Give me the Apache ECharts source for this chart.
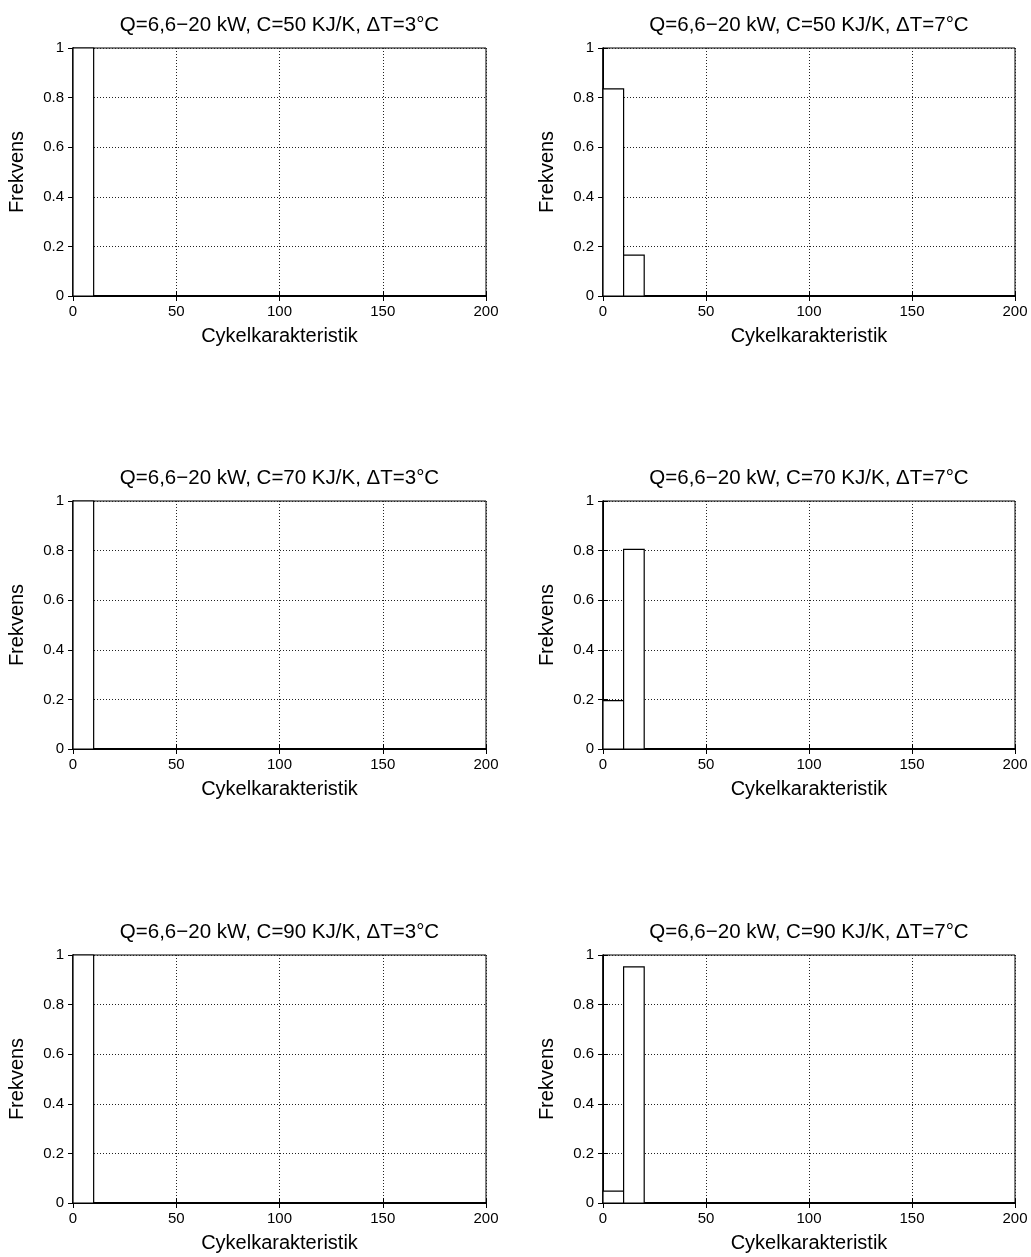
<!DOCTYPE html>
<html>
<head>
<meta charset="utf-8">
<script src="https://cdn.jsdelivr.net/npm/echarts@6/dist/echarts.min.js"></script>
<style>
  html, body { margin: 0; padding: 0; background: #fff; }
  #main { width: 1031px; height: 1257px; }
</style>
</head>
<body>
<div id="main"></div>
<script>
// histogram bins: width 10, starting at 0
var binWidth = 10;
var xTicks = [0, 50, 100, 150, 200];
var yTicks = [0, 0.2, 0.4, 0.6, 0.8, 1];

var titles = [
  'Q=6,6\u221220 kW, C=50 KJ/K, \u0394T=3\u00b0C',
  'Q=6,6\u221220 kW, C=50 KJ/K, \u0394T=7\u00b0C',
  'Q=6,6\u221220 kW, C=70 KJ/K, \u0394T=3\u00b0C',
  'Q=6,6\u221220 kW, C=70 KJ/K, \u0394T=7\u00b0C',
  'Q=6,6\u221220 kW, C=90 KJ/K, \u0394T=3\u00b0C',
  'Q=6,6\u221220 kW, C=90 KJ/K, \u0394T=7\u00b0C'
];

var freqC50dT3 = [1];
var freqC50dT7 = [0.835, 0.165];
var freqC70dT3 = [1];
var freqC70dT7 = [0.195, 0.805];
var freqC90dT3 = [1];
var freqC90dT7 = [0.048, 0.952];

var panels = [freqC50dT3, freqC50dT7, freqC70dT3, freqC70dT7, freqC90dT3, freqC90dT7];

var chart = echarts.init(document.getElementById('main'));

var font = 'Liberation Sans, Arial, Helvetica, sans-serif';
var colLeft = [73, 603];
var colWidth = [413, 412];
var rowTop = [48, 501, 955];
var plotH = 248;

var grids = [], xAxes = [], yAxes = [], series = [], titleOpts = [];

panels.forEach(function (freq, i) {
  var col = i % 2, row = Math.floor(i / 2);
  grids.push({
    left: colLeft[col], top: rowTop[row], width: colWidth[col], height: plotH,
    show: true, borderColor: '#000', borderWidth: 1, backgroundColor: 'transparent'
  });
  titleOpts.push({
    text: titles[i],
    left: colLeft[col] + colWidth[col] / 2 - 5,
    top: rowTop[row] - 38,
    textAlign: 'center',
    textStyle: { fontFamily: font, fontSize: 20.5, fontWeight: 'normal', color: '#000' }
  });
  // main axes
  xAxes.push({
    gridIndex: i, type: 'value', min: 0, max: 200, interval: 50,
    name: 'Cykelkarakteristik', nameLocation: 'middle', nameGap: 30,
    nameTextStyle: { fontFamily: font, fontSize: 20, color: '#000' },
    axisLine: { show: true, lineStyle: { color: '#000', width: 2 } },
    axisTick: { show: true, inside: true, length: 5, lineStyle: { color: '#000' } },
    axisLabel: { fontFamily: font, fontSize: 15, color: '#000', margin: 8 },
    splitLine: { show: true, lineStyle: { color: '#222', type: [1, 2], width: 1 } }
  });
  yAxes.push({
    gridIndex: i, type: 'value', min: 0, max: 1, interval: 0.2,
    name: 'Frekvens', nameLocation: 'middle', nameGap: 46,
    nameTextStyle: { fontFamily: font, fontSize: 20, color: '#000' },
    axisLine: { show: true, lineStyle: { color: '#000', width: 1.5 } },
    axisTick: { show: true, inside: true, length: 5, lineStyle: { color: '#000' } },
    axisLabel: { fontFamily: font, fontSize: 15, color: '#000', margin: 9 },
    splitLine: { show: true, lineStyle: { color: '#222', type: [1, 2], width: 1 } }
  });
  // mirror ticks on top and right
  xAxes.push({
    gridIndex: i, type: 'value', min: 0, max: 200, interval: 50, position: 'top',
    axisLine: { show: true, lineStyle: { color: '#000' } },
    axisTick: { show: true, inside: true, length: 5, lineStyle: { color: '#000' } },
    axisLabel: { show: false }, splitLine: { show: false }
  });
  yAxes.push({
    gridIndex: i, type: 'value', min: 0, max: 1, interval: 0.2, position: 'right',
    axisLine: { show: true, lineStyle: { color: '#000' } },
    axisTick: { show: true, inside: true, length: 5, lineStyle: { color: '#000' } },
    axisLabel: { show: false }, splitLine: { show: false }
  });

  var data = freq.map(function (v, k) {
    return [k * binWidth, (k + 1) * binWidth, v];
  });
  series.push({
    type: 'custom',
    xAxisIndex: i * 2,
    yAxisIndex: i * 2,
    data: data,
    clip: false,
    z: 5,
    renderItem: function (params, api) {
      var p0 = api.coord([api.value(0), api.value(2)]);
      var p1 = api.coord([api.value(1), 0]);
      return {
        type: 'rect',
        shape: { x: p0[0], y: p0[1], width: p1[0] - p0[0], height: p1[1] - p0[1] },
        style: { fill: '#fff', stroke: '#000', lineWidth: 1.2 }
      };
    }
  });
});

chart.setOption({
  animation: false,
  backgroundColor: '#fff',
  title: titleOpts,
  grid: grids,
  xAxis: xAxes,
  yAxis: yAxes,
  series: series
});
</script>
</body>
</html>
